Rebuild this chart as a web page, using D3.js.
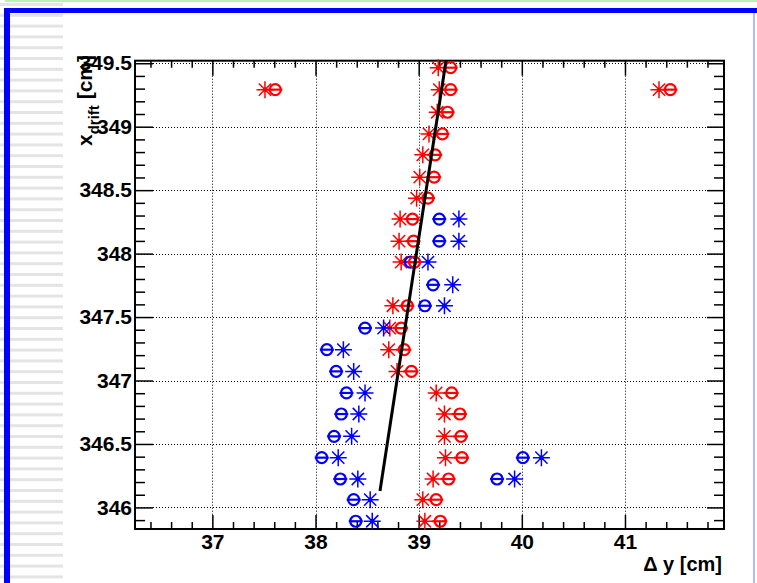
<!DOCTYPE html>
<html>
<head>
<meta charset="utf-8">
<script src="https://cdn.jsdelivr.net/npm/d3@7"></script>
<style>
    body { margin: 0; background: white; }
    svg { display: block; }
</style>
</head>
<body>
<div class="chart"></div>
<script>
// values
var redY = [349.465, 349.292, 349.114, 348.943, 348.778, 348.602, 348.437, 348.272, 348.098, 347.933,
            347.589, 347.413, 347.243, 347.072, 346.902, 346.736, 346.560, 346.392, 346.224, 346.061,
            345.891, 349.292, 349.292];
var redStarX = [39.19, 39.20, 39.18, 39.10, 39.04, 39.01, 38.98, 38.82, 38.81, 38.83,
                38.75, 38.72, 38.71, 38.79, 39.17, 39.25, 39.25, 39.26, 39.14, 39.04,
                39.06, 37.51, 41.33];
var redCircX = [39.31, 39.31, 39.28, 39.23, 39.16, 39.15, 39.09, 38.94, 38.95, 38.96,
                38.89, 38.83, 38.86, 38.93, 39.32, 39.40, 39.41, 39.42, 39.29, 39.17,
                39.21, 37.61, 41.44];

var blueY = [348.272, 348.098, 347.933, 347.754, 347.589, 347.413, 347.243, 347.072, 346.902, 346.736,
             346.560, 346.392, 346.392, 346.224, 346.224, 346.061, 345.891];
var blueCircX = [39.20, 39.20, 38.92, 39.14, 39.06, 38.48, 38.11, 38.20, 38.30, 38.25,
                 38.18, 38.06, 40.01, 38.24, 39.76, 38.37, 38.39];
var blueStarX = [39.39, 39.39, 39.09, 39.33, 39.25, 38.66, 38.27, 38.37, 38.48, 38.42,
                 38.35, 38.22, 40.19, 38.41, 39.93, 38.53, 38.55];

// straight fit line, ends
var fitY = [346.13, 349.52];
var fitX = [38.625, 39.265];

var xMajor = [37, 38, 39, 40, 41];
var yMajor = [346, 346.5, 347, 347.5, 348, 348.5, 349, 349.5];

function init(){
    var w = 757;
    var h = 583;
    var left = 135, right = 724, top = 60.7, bottom = 529;
    var font = "'Liberation Sans', Arial, Helvetica, sans-serif";

    var svg = d3.select(".chart")
                .append("svg")
                .attr("width", w)
                .attr("height", h);

    // window decoration around the canvas
    svg.append("rect").attr("x", 5).attr("y", 0).attr("width", w - 5).attr("height", 2).attr("fill", "#b8f0b8");
    var stripes = d3.range(3, h, 10.8);
    svg.selectAll(".stripe")
        .data(stripes)
        .enter()
        .append("rect")
        .attr("class", "stripe")
        .attr("x", 0)
        .attr("y", function(d){ return d; })
        .attr("width", 63)
        .attr("height", 3)
        .attr("fill", "#e4e4e4");
    svg.append("rect").attr("x", 4).attr("y", 8).attr("width", w - 4).attr("height", 5).attr("fill", "#0000ff");
    svg.append("rect").attr("x", 4).attr("y", 8).attr("width", 6).attr("height", h - 8).attr("fill", "#0000ff");
    svg.append("rect").attr("x", 753).attr("y", 13).attr("width", 2).attr("height", h - 13).attr("fill", "#b4b8ff");

    var xScale = d3.scaleLinear()
                    .domain([36.25, 41.96])
                    .range([left, right]);

    var yScale = d3.scaleLinear()
                    .domain([345.83, 349.52])
                    .range([bottom, top]);

    var xMinor = d3.range(36.4, 41.95, 0.2).map(function(d){ return +d.toFixed(1); })
                    .filter(function(d){ return xMajor.indexOf(d) < 0; });
    var yMinor = d3.range(345.9, 349.52, 0.1).map(function(d){ return +d.toFixed(1); })
                    .filter(function(d){ return yMajor.indexOf(d) < 0; });

    //Dotted grid at the major ticks
    var grid = svg.append("g")
                    .attr("stroke", "#000")
                    .attr("stroke-width", 1)
                    .attr("stroke-dasharray", "1,2");
    grid.selectAll(".gx")
        .data(xMajor)
        .enter()
        .append("line")
        .attr("x1", function(d){ return Math.round(xScale(d)) + 0.5; })
        .attr("x2", function(d){ return Math.round(xScale(d)) + 0.5; })
        .attr("y1", top)
        .attr("y2", bottom);
    grid.selectAll(".gy")
        .data(yMajor)
        .enter()
        .append("line")
        .attr("y1", function(d){ return Math.round(yScale(d)) + 0.5; })
        .attr("y2", function(d){ return Math.round(yScale(d)) + 0.5; })
        .attr("x1", left)
        .attr("x2", right);

    //Ticks on all four sides, pointing inwards
    function addAxis(axis, transform){
        var g = svg.append("g")
                    .attr("transform", transform)
                    .call(axis);
        g.select(".domain").remove();
        g.selectAll("line").attr("stroke", "#000").attr("stroke-width", 1.5);
        return g;
    }

    addAxis(d3.axisBottom(xScale).tickValues(xMinor).tickSize(-7).tickFormat(""), "translate(0," + bottom + ")");
    addAxis(d3.axisTop(xScale).tickValues(xMinor).tickSize(-7).tickFormat(""), "translate(0," + top + ")");
    addAxis(d3.axisTop(xScale).tickValues(xMajor).tickSize(-15).tickFormat(""), "translate(0," + top + ")");
    var xAxis = addAxis(d3.axisBottom(xScale).tickValues(xMajor).tickSize(-14)
                    .tickFormat(d3.format("d")), "translate(0," + bottom + ")");

    addAxis(d3.axisLeft(yScale).tickValues(yMinor).tickSize(-10).tickFormat(""), "translate(" + left + ",0)");
    addAxis(d3.axisRight(yScale).tickValues(yMinor).tickSize(-10).tickFormat(""), "translate(" + right + ",0)");
    addAxis(d3.axisRight(yScale).tickValues(yMajor).tickSize(-17).tickFormat(""), "translate(" + right + ",0)");
    var yAxis = addAxis(d3.axisLeft(yScale).tickValues(yMajor).tickSize(-18).tickPadding(3)
                    .tickFormat(function(d){ return d; }), "translate(" + left + ",0)");

    [xAxis, yAxis].forEach(function(g){
        g.selectAll("text")
            .attr("fill", "#000")
            .style("font-family", font)
            .style("font-weight", "bold")
            .style("font-size", "21px");
    });
    xAxis.selectAll("text").attr("dy", "0.71em").attr("y", 5);

    //Frame
    svg.append("rect")
        .attr("x", left)
        .attr("y", top)
        .attr("width", right - left)
        .attr("height", bottom - top)
        .attr("fill", "none")
        .attr("stroke", "#000")
        .attr("stroke-width", 2);

    //Markers
    function stars(xs, ys, color){
        var g = svg.append("g");
        var s = 8.5;
        xs.forEach(function(xv, i){
            var cx = xScale(xv), cy = yScale(ys[i]);
            var d = s * 0.72;
            var path = "M" + (cx - s) + "," + cy + "H" + (cx + s) +
                       "M" + cx + "," + (cy - s) + "V" + (cy + s) +
                       "M" + (cx - d) + "," + (cy - d) + "L" + (cx + d) + "," + (cy + d) +
                       "M" + (cx - d) + "," + (cy + d) + "L" + (cx + d) + "," + (cy - d);
            g.append("path")
                .attr("d", path)
                .attr("stroke", color)
                .attr("stroke-width", 1.5)
                .attr("fill", "none");
            g.append("circle")
                .attr("cx", cx)
                .attr("cy", cy)
                .attr("r", 2.2)
                .attr("fill", color);
        });
    }

    function circles(xs, ys, color, barLeft){
        var g = svg.append("g");
        xs.forEach(function(xv, i){
            var cx = xScale(xv), cy = yScale(ys[i]);
            g.append("circle")
                .attr("cx", cx)
                .attr("cy", cy)
                .attr("r", 5.5)
                .attr("fill", "none")
                .attr("stroke", color)
                .attr("stroke-width", 2.2);
            g.append("line")
                .attr("x1", cx - barLeft)
                .attr("x2", cx + 7)
                .attr("y1", cy)
                .attr("y2", cy)
                .attr("stroke", color)
                .attr("stroke-width", 2.2);
        });
    }

    stars(redStarX, redY, "#ff0000");
    circles(blueCircX, blueY, "#0000ff", 7);
    stars(blueStarX, blueY, "#0000ff");
    circles(redCircX, redY, "#ff0000", 8);

    //Fit line
    svg.append("path")
        .datum(fitX.map(function(d, i){ return [d, fitY[i]]; }))
        .attr("d", d3.line()
                    .x(function(d){ return xScale(d[0]); })
                    .y(function(d){ return yScale(d[1]); }))
        .attr("stroke", "#000")
        .attr("stroke-width", 3)
        .attr("fill", "none");

    //Axis titles
    svg.append("text")
        .attr("x", 722)
        .attr("y", 571)
        .attr("text-anchor", "end")
        .style("font-family", font)
        .style("font-weight", "bold")
        .style("font-size", "20px")
        .text("\u0394 y [cm]");

    var yTitle = svg.append("text")
        .attr("transform", "translate(92,55) rotate(-90)")
        .attr("text-anchor", "end")
        .style("font-family", font)
        .style("font-weight", "bold")
        .style("font-size", "21px");
    yTitle.append("tspan").text("x");
    yTitle.append("tspan").attr("dy", 7).style("font-size", "15px").text("drift");
    yTitle.append("tspan").attr("dy", -7).text(" [cm]");
}

window.onload = init;
</script>
</body>
</html>
